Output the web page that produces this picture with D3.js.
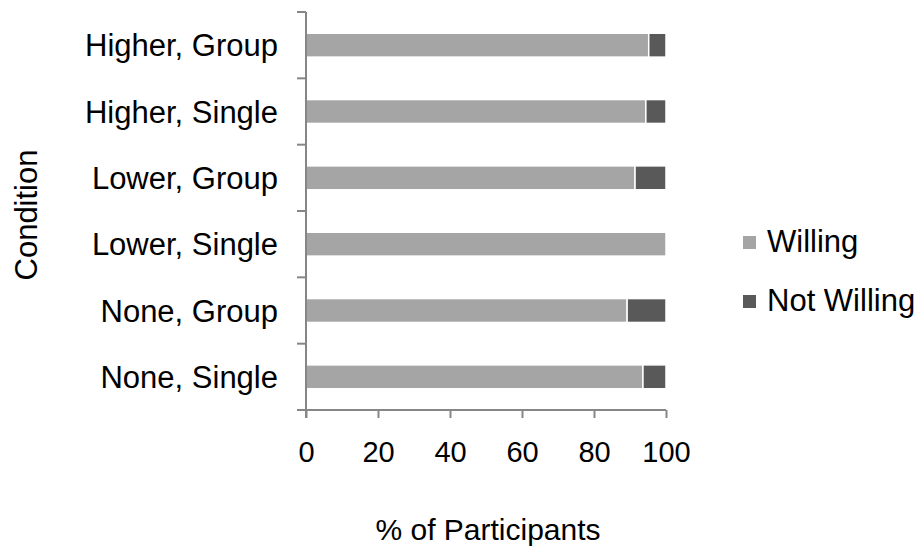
<!DOCTYPE html>
<html>
<head>
<meta charset="utf-8">
<script src="https://cdn.jsdelivr.net/npm/d3@7/dist/d3.min.js"></script>
<style>
  html, body { margin: 0; padding: 0; background: #fff; }
  svg { display: block; }
  text { font-family: "Liberation Sans", Arial, sans-serif; fill: #000; }
</style>
</head>
<body>
<svg id="chart" width="918" height="550"></svg>
<script>
// Conditions, listed top to bottom
const categories = ["Higher, Group", "Higher, Single", "Lower, Group", "Lower, Single", "None, Group", "None, Single"];
// Percent of participants in each condition
const willing    = [95.2, 94.4, 91.4, 100, 89.2, 93.6];
const notWilling = [4.8, 5.6, 8.6, 0, 10.8, 6.4];
const seriesNames = ["Willing", "Not Willing"];
const xTicks = [0, 20, 40, 60, 80, 100];

const colors = { "Willing": "#a5a5a5", "Not Willing": "#595959" };
const axisColor = "#868686";
const labelSize = 31;
const tickSize = 29;

const svg = d3.select("#chart");

const x = d3.scaleLinear().domain([0, 100]).range([306, 666]);
const y = d3.scaleBand().domain(categories).range([12, 410])
  .paddingInner(0.64).paddingOuter(0.32);

const rows = categories.map((c, i) => ({ cat: c, "Willing": willing[i], "Not Willing": notWilling[i] }));
const stacked = d3.stack().keys(seriesNames)(rows);

// Stacked bars
svg.append("g").selectAll("g")
  .data(stacked)
  .join("g")
  .attr("fill", d => colors[d.key])
  .selectAll("rect")
  .data(d => d.filter(p => p[1] - p[0] > 0))
  .join("rect")
  .attr("x", d => x(d[0]))
  .attr("y", d => y(d.data.cat))
  .attr("width", d => x(d[1]) - x(d[0]))
  .attr("height", y.bandwidth())
  .attr("stroke", "#fff")
  .attr("stroke-width", 1.5);

// X axis
const xAxis = svg.append("g")
  .attr("transform", "translate(0,410)")
  .call(d3.axisBottom(x).tickValues(xTicks).tickSize(8).tickPadding(23).tickSizeOuter(0));
xAxis.select(".domain").attr("stroke", axisColor).attr("stroke-width", 2)
  .attr("d", `M${x(0) - 9},0H${x(100)}`);
xAxis.selectAll(".tick line").attr("stroke", axisColor).attr("stroke-width", 2);
xAxis.selectAll(".tick text").style("font-size", tickSize + "px")
  .style("font-family", "'Liberation Sans', Arial, sans-serif").attr("fill", "#000");

// Y axis: line with ticks at category boundaries
const step = y.step();
const boundaries = d3.range(categories.length + 1).map(i => 12 + i * step);
const yAxis = svg.append("g");
yAxis.append("line")
  .attr("x1", x(0)).attr("x2", x(0)).attr("y1", 12).attr("y2", 418)
  .attr("stroke", axisColor).attr("stroke-width", 2);
yAxis.selectAll("line.tick")
  .data(boundaries.slice(0, -1))
  .join("line")
  .attr("class", "tick")
  .attr("x1", x(0) - 9).attr("x2", x(0))
  .attr("y1", d => d).attr("y2", d => d)
  .attr("stroke", axisColor).attr("stroke-width", 2);

// Category labels
svg.append("g").selectAll("text")
  .data(categories)
  .join("text")
  .attr("x", 278)
  .attr("y", d => y(d) + y.bandwidth() / 2)
  .attr("dy", "0.36em")
  .attr("text-anchor", "end")
  .style("font-size", labelSize + "px")
  .text(d => d);

// Axis titles
svg.append("text")
  .attr("x", 488).attr("y", 540)
  .attr("text-anchor", "middle")
  .style("font-size", "30px")
  .text("% of Participants");

svg.append("text")
  .attr("transform", "translate(37,215) rotate(-90)")
  .attr("text-anchor", "middle")
  .style("font-size", labelSize + "px")
  .text("Condition");

// Legend
const legend = svg.append("g").selectAll("g")
  .data(seriesNames)
  .join("g")
  .attr("transform", (d, i) => `translate(743,${236 + i * 59})`);
legend.append("rect")
  .attr("width", 13).attr("height", 13)
  .attr("fill", d => colors[d]);
legend.append("text")
  .attr("x", 24).attr("y", 16)
  .style("font-size", labelSize + "px")
  .text(d => d);
</script>
</body>
</html>
